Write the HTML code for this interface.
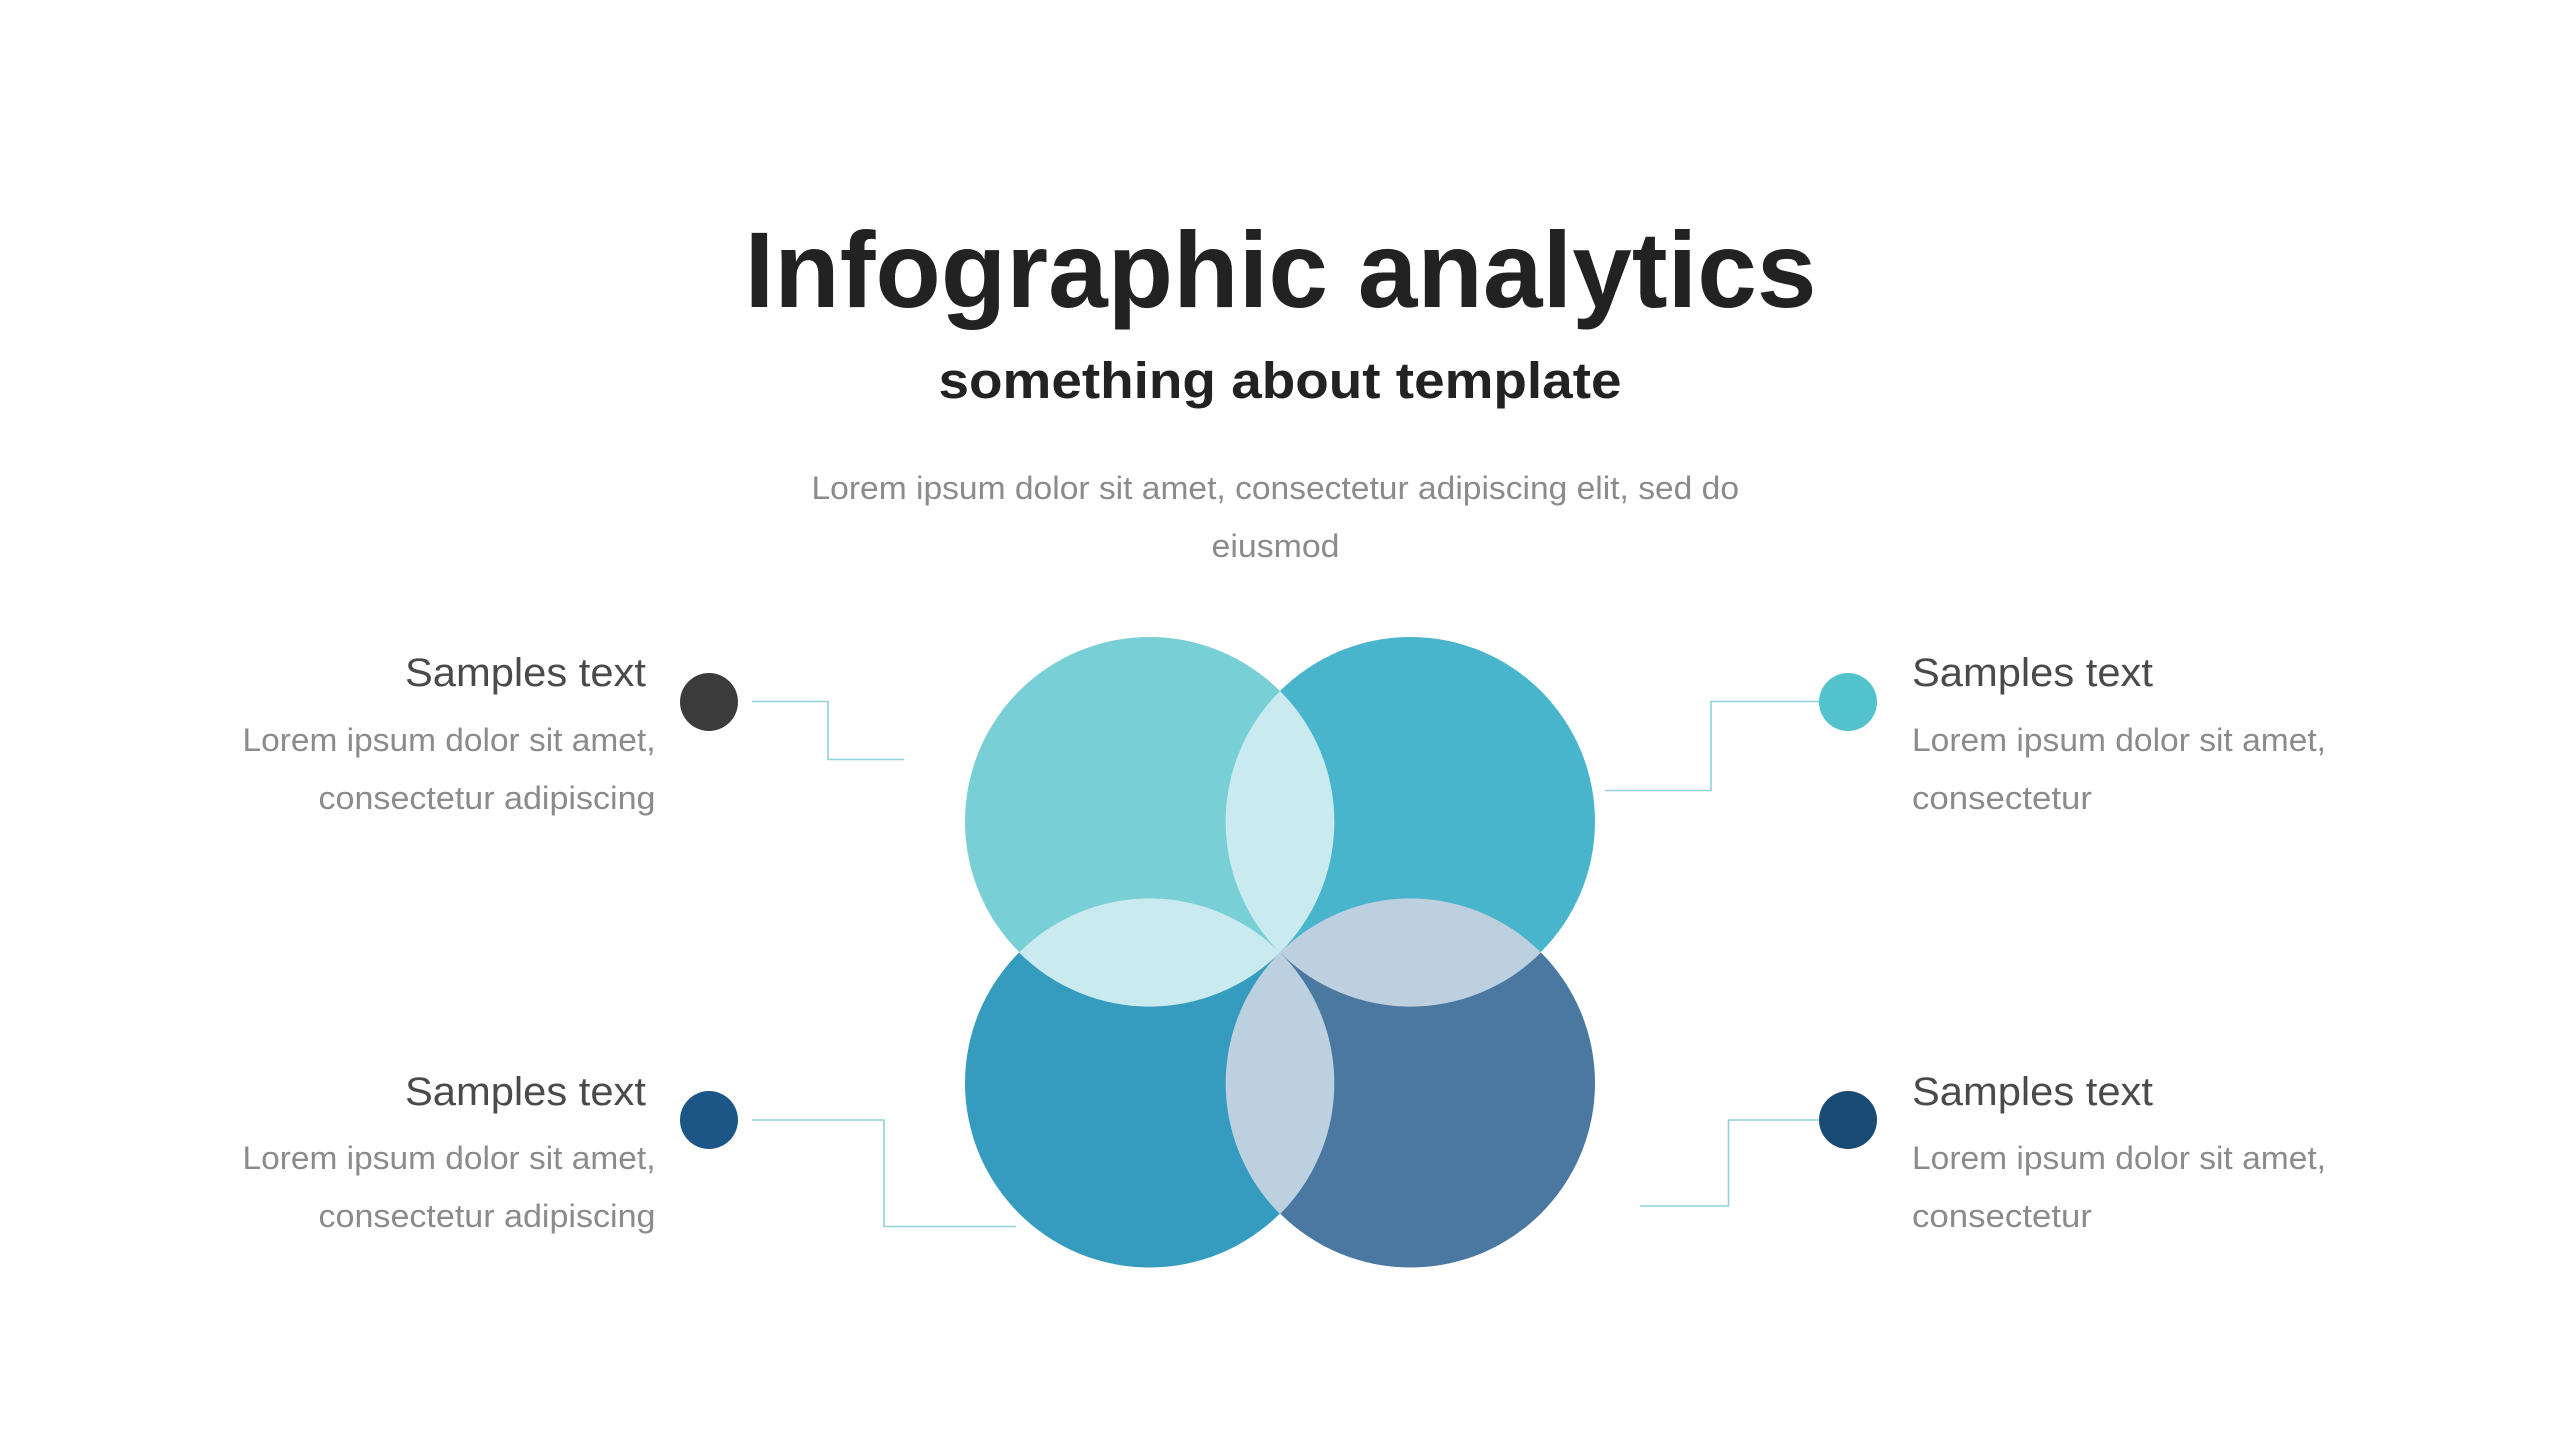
<!DOCTYPE html>
<html lang="en">
<head>
<meta charset="utf-8">
<title>Infographic analytics</title>
<style>
html,body{margin:0;padding:0;background:#fff;width:2560px;height:1440px;overflow:hidden}
svg{display:block}
text{font-family:"Liberation Sans",sans-serif}
.h{fill:#4a4a4a;font-size:40px}
.b{fill:#8b8b8b;font-size:32px}
</style>
</head>
<body>
<svg width="2560" height="1440" viewBox="0 0 2560 1440" xmlns="http://www.w3.org/2000/svg">
<rect width="2560" height="1440" fill="#fff"/>

<text x="744.5" y="307" font-size="108" font-weight="700" fill="#222222" textLength="1072" lengthAdjust="spacingAndGlyphs">Infographic analytics</text>
<text x="938.5" y="398" font-size="51" font-weight="700" fill="#222222" textLength="683" lengthAdjust="spacingAndGlyphs">something about template</text>
<text x="811.5" y="499" class="b" textLength="927.5" lengthAdjust="spacingAndGlyphs">Lorem ipsum dolor sit amet, consectetur adipiscing elit, sed do</text>
<text x="1211.5" y="557" class="b" textLength="128" lengthAdjust="spacingAndGlyphs">eiusmod</text>

<circle cx="1149.5" cy="821.5" r="184.5" fill="#79cfd6"/>
<circle cx="1410.5" cy="821.5" r="184.5" fill="#49b5cc"/>
<circle cx="1149.5" cy="1083" r="184.5" fill="#369cbf"/>
<circle cx="1410.5" cy="1083" r="184.5" fill="#4a78a0"/>
<path d="M1280 691 A184.5 184.5 0 0 1 1280 952.5 A184.5 184.5 0 0 1 1280 691Z" fill="#c9ebf0"/>
<path d="M1280 952.5 A184.5 184.5 0 0 1 1280 1214 A184.5 184.5 0 0 1 1280 952.5Z" fill="#bdd0df"/>
<path d="M1019 952.5 A184.5 184.5 0 0 1 1280 952.5 A184.5 184.5 0 0 1 1019 952.5Z" fill="#c9ebf0"/>
<path d="M1280 952.5 A184.5 184.5 0 0 1 1541 952.5 A184.5 184.5 0 0 1 1280 952.5Z" fill="#bdd0df"/>

<g fill="none" stroke="#8fd0da" stroke-width="1.6">
<path d="M752 701.5 H828 V759.5 H904"/>
<path d="M1605 790.5 H1711 V701.5 H1819"/>
<path d="M752 1120 H884 V1226.5 H1016"/>
<path d="M1640 1206 H1728.5 V1120 H1819"/>
</g>

<circle cx="709" cy="702" r="29" fill="#3b3b3b"/>
<circle cx="1848" cy="702" r="29" fill="#52c2cc"/>
<circle cx="709" cy="1120" r="29" fill="#1c5687"/>
<circle cx="1848" cy="1120" r="29" fill="#1a4b75"/>

<text x="405" y="686" class="h" textLength="241" lengthAdjust="spacingAndGlyphs">Samples text</text>
<text x="242.5" y="751" class="b" textLength="413" lengthAdjust="spacingAndGlyphs">Lorem ipsum dolor sit amet,</text>
<text x="318.5" y="809" class="b" textLength="337" lengthAdjust="spacingAndGlyphs">consectetur adipiscing</text>

<text x="405" y="1105" class="h" textLength="241" lengthAdjust="spacingAndGlyphs">Samples text</text>
<text x="242.5" y="1169" class="b" textLength="413" lengthAdjust="spacingAndGlyphs">Lorem ipsum dolor sit amet,</text>
<text x="318.5" y="1227" class="b" textLength="337" lengthAdjust="spacingAndGlyphs">consectetur adipiscing</text>

<text x="1912" y="686" class="h" textLength="241" lengthAdjust="spacingAndGlyphs">Samples text</text>
<text x="1912" y="751" class="b" textLength="414" lengthAdjust="spacingAndGlyphs">Lorem ipsum dolor sit amet,</text>
<text x="1912" y="809" class="b" textLength="180" lengthAdjust="spacingAndGlyphs">consectetur</text>

<text x="1912" y="1105" class="h" textLength="241" lengthAdjust="spacingAndGlyphs">Samples text</text>
<text x="1912" y="1169" class="b" textLength="414" lengthAdjust="spacingAndGlyphs">Lorem ipsum dolor sit amet,</text>
<text x="1912" y="1227" class="b" textLength="180" lengthAdjust="spacingAndGlyphs">consectetur</text>
</svg>
</body>
</html>
